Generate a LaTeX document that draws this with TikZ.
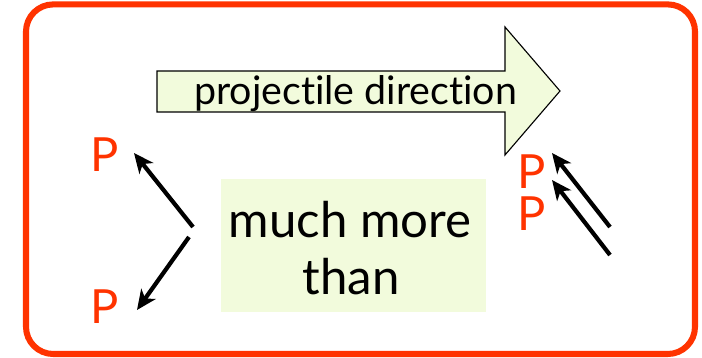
\documentclass[tikz,border=0pt]{standalone}
\usepackage{fontspec}
\setmainfont{Lato}[Ligatures={NoCommon,NoRequired,NoContextual}]
\usetikzlibrary{arrows.meta}
\definecolor{pred}{RGB}{255,51,0}
\definecolor{pgreen}{RGB}{242,251,220}

\begin{document}
\begin{tikzpicture}[->,>={Stealth[length=14pt,width=12.5pt,inset=4pt]},font=\fontsize{35}{42}\selectfont,
  parrow/.style={line width=3pt},
  proton/.style={text=pred,inner sep=0pt,font=\fontsize{33.5}{40}\selectfont}]
  \useasboundingbox (0,0) rectangle (17.55,8.95);
  \draw[-,pred,line width=4.3pt,rounded corners=0.68cm] (0.65,0.1) rectangle (17.375,8.84);
  \draw[-,fill=pgreen,line width=0.8pt] (3.925,7.175)--(12.625,7.175)--(12.625,8.275)--(14,6.675)--(12.625,5.075)--(12.625,6.15)--(3.925,6.15)--cycle;
  \node[anchor=base,inner sep=0pt] (dir) at (8.89,6.325) {\fontsize{28}{30}\selectfont projectile direction};
  \node[fill=pgreen,minimum width=6.625cm,minimum height=3.325cm] (box) at (8.84,2.8125) {};
  \node[anchor=base,inner sep=0pt] (more) at (8.75,3.0) {much more};
  \node[anchor=base,inner sep=0pt] (than) at (8.775,1.575) {than};
  \node[proton] (pl1) at (2.625,5.075) {P};
  \node[proton] (pl2) at (2.625,1.29) {P};
  \node[proton] (pr1) at (13.3,4.67) {P};
  \node[proton] (pr2) at (13.3,3.6) {P};
  \coordinate (lu0) at (4.825,3.275);
  \coordinate (lu1) at (3.35,5.125);
  \coordinate (ld0) at (4.725,3.025);
  \coordinate (ld1) at (3.425,1.2);
  \coordinate (ru0) at (15.25,3.275);
  \coordinate (ru1) at (13.8,5.125);
  \coordinate (rd0) at (15.25,2.575);
  \coordinate (rd1) at (13.8,4.45);
  \draw[parrow] (lu0)--(lu1);
  \draw[parrow] (ld0)--(ld1);
  \draw[parrow] (ru0)--(ru1);
  \draw[parrow] (rd0)--(rd1);
\end{tikzpicture}
\end{document}
